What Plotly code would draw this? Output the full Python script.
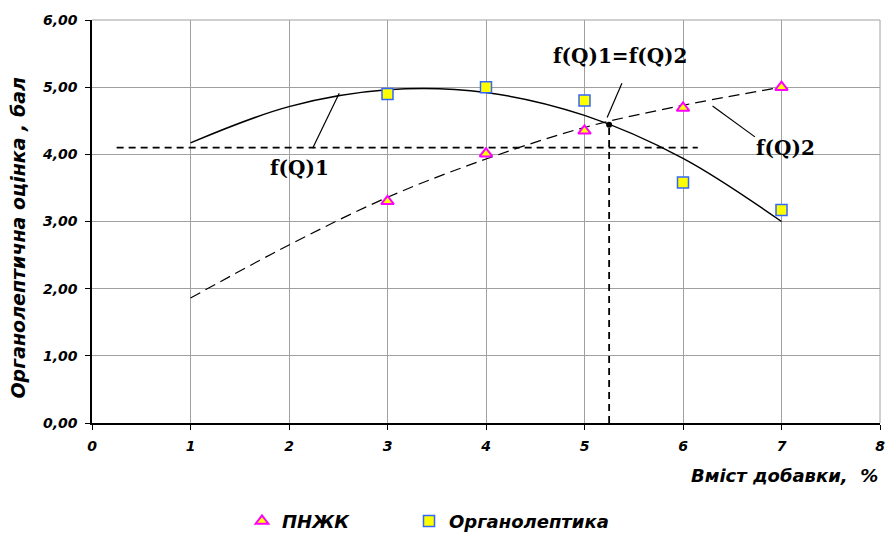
import plotly.graph_objects as go

# data
x_pts = [3, 4, 5, 6, 7]
pnzhk = [3.30, 4.01, 4.35, 4.69, 5.00]
organo = [4.90, 5.00, 4.80, 3.58, 3.17]

curve_x = [1, 2, 3, 4, 5, 6, 7]
f1_vals = [4.17, 4.71, 4.96, 4.92, 4.58, 3.94, 3.00]
f2_vals = [1.86, 2.65, 3.36, 3.93, 4.40, 4.73, 5.00]

cross_x = 5.25
cross_y = 4.44
level_y = 4.10
level_x = [0.25, 6.15]

font_tick = dict(family="DejaVu Sans", size=14, color="black", weight="bold", style="italic")
font_leg = dict(family="DejaVu Sans", size=18, color="black", weight="bold", style="italic")
font_lbl = dict(family="DejaVu Serif", size=20, color="black", weight="bold")

fig = go.Figure()
fig.add_trace(go.Scatter(x=curve_x, y=f1_vals, mode="lines", line=dict(color="black", width=1.5, shape="spline"),
                         showlegend=False, hoverinfo="skip"))
fig.add_trace(go.Scatter(x=curve_x, y=f2_vals, mode="lines",
                         line=dict(color="black", width=1.2, dash="11px,6px", shape="spline"),
                         showlegend=False, hoverinfo="skip"))
fig.add_trace(go.Scatter(x=level_x, y=[level_y, level_y], mode="lines",
                         line=dict(color="black", width=1.8, dash="7px,5px"), showlegend=False, hoverinfo="skip"))
fig.add_trace(go.Scatter(x=[cross_x, cross_x], y=[0, cross_y], mode="lines",
                         line=dict(color="black", width=1.8, dash="7px,5px"), showlegend=False, hoverinfo="skip"))
fig.add_trace(go.Scatter(x=[cross_x], y=[cross_y], mode="markers",
                         marker=dict(color="black", size=6), showlegend=False, hoverinfo="skip"))
fig.add_trace(go.Scatter(x=x_pts, y=pnzhk, mode="markers", name="ПНЖК", legend="legend",
                         marker=dict(symbol="triangle-up", size=11, color="#FFFF00",
                                     line=dict(color="#FF00FF", width=2))))
fig.add_trace(go.Scatter(x=x_pts, y=organo, mode="markers", name="Органолептика", legend="legend2",
                         marker=dict(symbol="square", size=11, color="#FFFF00",
                                     line=dict(color="#3366FF", width=1.5))))

# annotation texts
fig.add_annotation(x=5.37, y=5.46, text="f(Q)1=f(Q)2", showarrow=False, font=font_lbl)
fig.add_annotation(x=7.04, y=4.09, text="f(Q)2", showarrow=False, font=font_lbl)
fig.add_annotation(x=2.11, y=3.79, text="f(Q)1", showarrow=False, font=font_lbl)
# leader lines
for (x0, y0, x1, y1) in [(5.38, 5.06, 5.23, 4.55), (6.30, 4.72, 6.73, 4.26), (2.24, 4.09, 2.51, 4.91)]:
    fig.add_shape(type="line", x0=x0, y0=y0, x1=x1, y1=y1, xref="x", yref="y",
                  line=dict(color="black", width=1.2))

fig.add_annotation(x=1.0, y=-0.1, xref="paper", yref="paper", xanchor="right", yanchor="top",
                   text="Вміст добавки,  %", showarrow=False,
                   font=dict(family="DejaVu Sans", size=18, color="black", weight="bold", style="italic"))
fig.add_annotation(x=-0.094, y=0.46, xref="paper", yref="paper", xanchor="center", yanchor="middle",
                   text="Органолептична оцінка , бал", showarrow=False, textangle=-90,
                   font=dict(family="DejaVu Sans", size=19, color="black", weight="bold", style="italic"))

leg_common = dict(orientation="h", xanchor="left", y=-0.198, yanchor="top",
                  font=font_leg, itemwidth=30, bgcolor="rgba(0,0,0,0)")
fig.update_layout(
    width=888, height=534,
    margin=dict(l=92, r=8, t=20, b=111, autoexpand=False),
    plot_bgcolor="white", paper_bgcolor="white",
    separators=",.",
    legend=dict(x=(242 - 92) / 788, **leg_common),
    legend2=dict(x=(409 - 92) / 788, **leg_common),
)
fig.update_xaxes(range=[0, 8], dtick=1, tick0=0, showgrid=True, gridcolor="#a0a0a0", gridwidth=1,
                 showline=True, linecolor="black", linewidth=1.5, mirror=False, automargin=False,
                 ticks="outside", ticklen=5, tickcolor="black", tickfont=font_tick, zeroline=False,
                 ticklabelstandoff=4)
fig.update_yaxes(range=[0, 6], dtick=1, tick0=0, tickformat=".2f", showgrid=True, gridcolor="#a0a0a0", gridwidth=1,
                 showline=True, linecolor="black", linewidth=1.5, automargin=False,
                 ticks="outside", ticklen=5, tickcolor="black", tickfont=font_tick, zeroline=False,
                 ticklabelstandoff=5)
# top and right frame in gray
fig.add_shape(type="line", xref="paper", yref="paper", x0=0, x1=1, y0=1, y1=1, line=dict(color="#a0a0a0", width=1))
fig.add_shape(type="line", xref="paper", yref="paper", x0=1, x1=1, y0=0, y1=1, line=dict(color="#a0a0a0", width=1))

fig.write_html("out.html", config={"displayModeBar": False},
               post_script="document.body.style.margin='0';document.body.style.padding='0';")
